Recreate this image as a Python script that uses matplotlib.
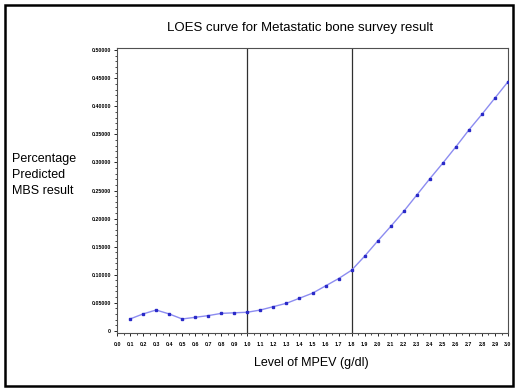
import numpy as np
import matplotlib
matplotlib.use("Agg")
import matplotlib.pyplot as plt
from matplotlib.patches import Rectangle
from matplotlib.ticker import MultipleLocator, FuncFormatter

plt.rcParams['font.family'] = ['Liberation Sans', 'DejaVu Sans']

# MPEV level (g/dl) and predicted MBS result
mpev = [0.1, 0.2, 0.3, 0.4, 0.5, 0.6, 0.7, 0.8, 0.9, 1.0,
        1.1, 1.2, 1.3, 1.4, 1.5, 1.6, 1.7, 1.8, 1.9, 2.0,
        2.1, 2.2, 2.3, 2.4, 2.5, 2.6, 2.7, 2.8, 2.9, 3.0]
predicted = [0.021, 0.030, 0.037, 0.030, 0.021, 0.024, 0.027, 0.031, 0.032, 0.033,
             0.037, 0.043, 0.049, 0.058, 0.067, 0.080, 0.093, 0.108, 0.133, 0.160,
             0.186, 0.213, 0.242, 0.271, 0.299, 0.328, 0.358, 0.386, 0.415, 0.444]
cutoffs = [1.0, 1.8]
y_ticks = [0, 0.05, 0.10, 0.15, 0.20, 0.25, 0.30, 0.35, 0.40, 0.45, 0.50]
x_ticks = [round(i * 0.1, 1) for i in range(31)]

fig = plt.figure(figsize=(5.2, 3.92), dpi=100)
fig.patch.set_facecolor('white')

# outer frame round the whole picture
fig.add_artist(Rectangle((5 / 520, 6 / 392), 508 / 520, 381 / 392,
                         transform=fig.transFigure, fill=False,
                         edgecolor='black', linewidth=1.8))

ax = fig.add_axes([0.225, 0.1505, 0.752, 0.727])

ax.plot(mpev, predicted, color='#8c8cf0', linewidth=1.0, zorder=2)
ax.plot(mpev, predicted, linestyle='none', marker='s', markersize=1.6,
        color='#2a2ac8', zorder=3)

for c in cutoffs:
    ax.axvline(c, color='#303030', linewidth=0.9, zorder=1)

ax.set_xlim(0, 3.0)
ax.set_ylim(-0.004, 0.504)
ax.set_xticks(x_ticks)
ax.set_xticklabels([f'{v:.1f}' for v in x_ticks])
ax.set_yticks(y_ticks)
ax.yaxis.set_major_formatter(FuncFormatter(lambda v, p: '0' if v == 0 else f'{v:.5f}'))
ax.xaxis.set_minor_locator(MultipleLocator(0.05))
ax.yaxis.set_minor_locator(MultipleLocator(0.01))

ax.tick_params(axis='both', which='major', labelsize=3.8, length=2.5, width=0.6)
ax.tick_params(axis='x', which='major', pad=4)
ax.tick_params(axis='y', which='major', pad=2)
ax.tick_params(axis='both', which='minor', length=1.3, width=0.5)
for lab in ax.get_xticklabels() + ax.get_yticklabels():
    lab.set_fontweight('bold')

for s in ax.spines.values():
    s.set_linewidth(0.8)
    s.set_color('#505050')

fig.text(0.577, 0.928, 'LOES curve for Metastatic bone survey result',
         ha='center', va='center', fontsize=9.5)
fig.text(0.599, 0.074, 'Level of MPEV (g/dl)', ha='center', va='center', fontsize=9)
fig.text(0.023, 0.553, 'Percentage\nPredicted\nMBS result', ha='left', va='center',
         fontsize=9, linespacing=1.45)

fig.savefig('out.png', dpi=100, facecolor='white')
